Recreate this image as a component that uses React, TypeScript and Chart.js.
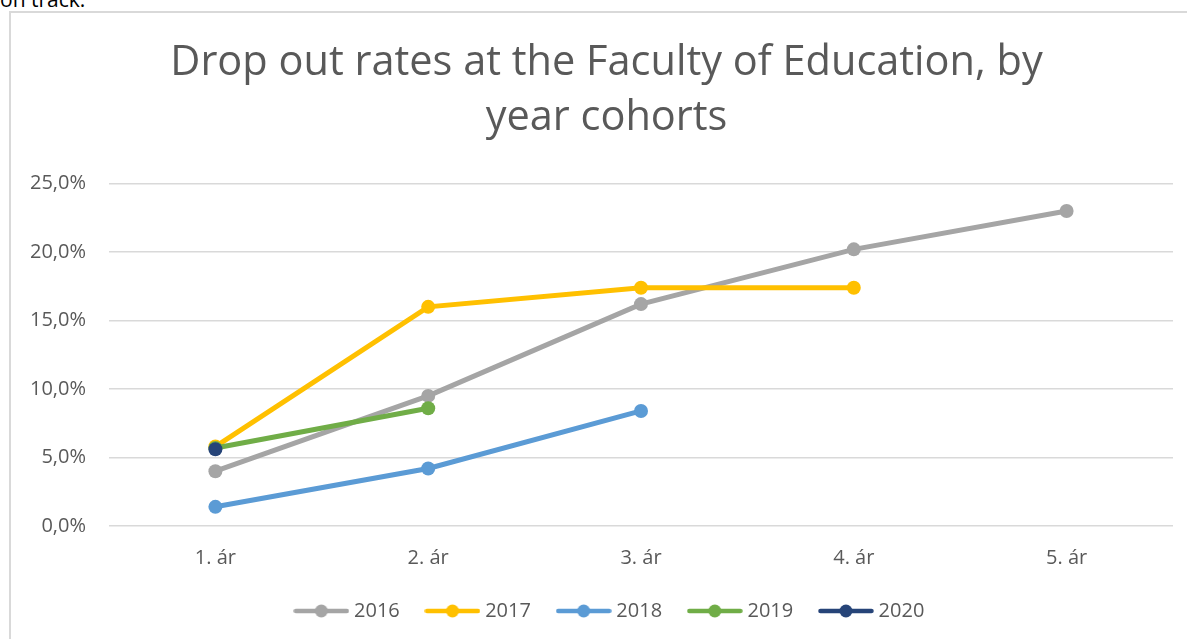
import React, { useEffect, useRef } from "react";
import { Chart, registerables } from "chart.js";

Chart.register(...registerables);

const categories = ["1. ár", "2. ár", "3. ár", "4. ár", "5. ár"];
const seriesNames = ["2016", "2017", "2018", "2019", "2020"];
const values2016 = [4.0, 9.5, 16.2, 20.2, 23.0];
const values2017 = [5.8, 16.0, 17.4, 17.4, null];
const values2018 = [1.4, 4.2, 8.4, null, null];
const values2019 = [5.7, 8.6, null, null, null];
const values2020 = [5.6, null, null, null, null];
const seriesColors = ["#A5A5A5", "#FFC000", "#5B9BD5", "#70AD47", "#264478"];
const titleLines = ["Drop out rates at the Faculty of Education, by", "year cohorts"];
const yMin = 0;
const yMax = 25;
const yStep = 5;

const FONT = "'Open Sans', sans-serif";
const TEXT = "#595959";

function legendSwatch(color: string): HTMLCanvasElement {
  const c = document.createElement("canvas");
  c.width = 56;
  c.height = 14;
  const ctx = c.getContext("2d")!;
  ctx.strokeStyle = color;
  ctx.lineWidth = 4.5;
  ctx.lineCap = "round";
  ctx.beginPath();
  ctx.moveTo(2.5, 7);
  ctx.lineTo(53.5, 7);
  ctx.stroke();
  ctx.fillStyle = color;
  ctx.beginPath();
  ctx.arc(28, 7, 6.5, 0, Math.PI * 2);
  ctx.fill();
  return c;
}

const shiftBoxes = {
  id: "shiftBoxes",
  afterLayout(chart: any) {
    if (chart.titleBlock) chart.titleBlock.left = 40;
    if (chart.legend) chart.legend.left = 50;
  },
};

export default function App() {
  const ref = useRef<HTMLCanvasElement | null>(null);

  useEffect(() => {
    const canvas = ref.current;
    if (!canvas) return;
    const allValues = [values2016, values2017, values2018, values2019, values2020];
    const datasets = seriesNames.map((name, i) => ({
      label: name,
      data: allValues[i],
      borderColor: seriesColors[i],
      backgroundColor: seriesColors[i],
      pointBackgroundColor: seriesColors[i],
      pointBorderWidth: 0,
      pointRadius: 7,
      borderWidth: 5,
      tension: 0,
      order: seriesNames.length - 1 - i,
    }));
    const swatches = seriesColors.map(legendSwatch);

    const chart = new Chart(canvas, {
      type: "line",
      data: { labels: categories, datasets },
      plugins: [shiftBoxes],
      options: {
        animation: false,
        responsive: false,
        devicePixelRatio: 1,
        layout: { padding: { left: 10, right: 14, top: 20, bottom: 8 } },
        plugins: {
          tooltip: { enabled: false },
          title: {
            display: true,
            text: titleLines,
            color: TEXT,
            font: { family: FONT, size: 41.5, weight: "normal", lineHeight: 55 / 41.5 },
            padding: { top: 15.6, bottom: 38 },
          },
          legend: {
            position: "bottom",
            labels: {
              usePointStyle: true,
              pointStyleWidth: 45.4,
              padding: 30,
              color: TEXT,
              font: { family: FONT, size: 20 },
              generateLabels: () =>
                seriesNames.map((name, i) => ({
                  text: name,
                  fillStyle: seriesColors[i],
                  strokeStyle: seriesColors[i],
                  fontColor: TEXT,
                  lineWidth: 0,
                  hidden: false,
                  pointStyle: swatches[i] as any,
                  datasetIndex: i,
                })),
            },
          },
        },
        scales: {
          x: {
            offset: true,
            afterFit: (scale: any) => {
              scale.height = 45;
            },
            grid: { display: false, drawTicks: false, offset: true },
            border: { display: false },
            ticks: { color: TEXT, font: { family: FONT, size: 20 }, padding: 20 },
          },
          y: {
            min: yMin,
            max: yMax,
            afterFit: (scale: any) => {
              scale.width = 99;
            },
            grid: { color: "#d9d9d9", lineWidth: 1.5, drawTicks: false },
            border: { display: false },
            ticks: {
              stepSize: yStep,
              padding: 23,
              color: TEXT,
              font: { family: FONT, size: 20 },
              callback: (v: any) => Number(v).toFixed(1).replace(".", ",") + "%",
            },
          },
        },
      },
    });
    return () => chart.destroy();
  }, []);

  return (
    <div
      style={{
        position: "fixed",
        left: 0,
        top: 0,
        width: 1187,
        height: 639,
        overflow: "hidden",
        background: "#ffffff",
      }}
    >
      <div
        style={{
          position: "absolute",
          left: 0,
          top: -15,
          fontFamily: FONT,
          fontSize: 21,
          color: "#000000",
          whiteSpace: "nowrap",
        }}
      >
        on track.
      </div>
      <div
        style={{
          position: "absolute",
          left: 9,
          top: 11,
          width: 1200,
          height: 700,
          border: "2px solid #d9d9d9",
          boxSizing: "border-box",
        }}
      />
      <canvas
        ref={ref}
        width={1187}
        height={639}
        style={{ position: "absolute", left: 0, top: 0, width: 1187, height: 639 }}
      />
    </div>
  );
}
